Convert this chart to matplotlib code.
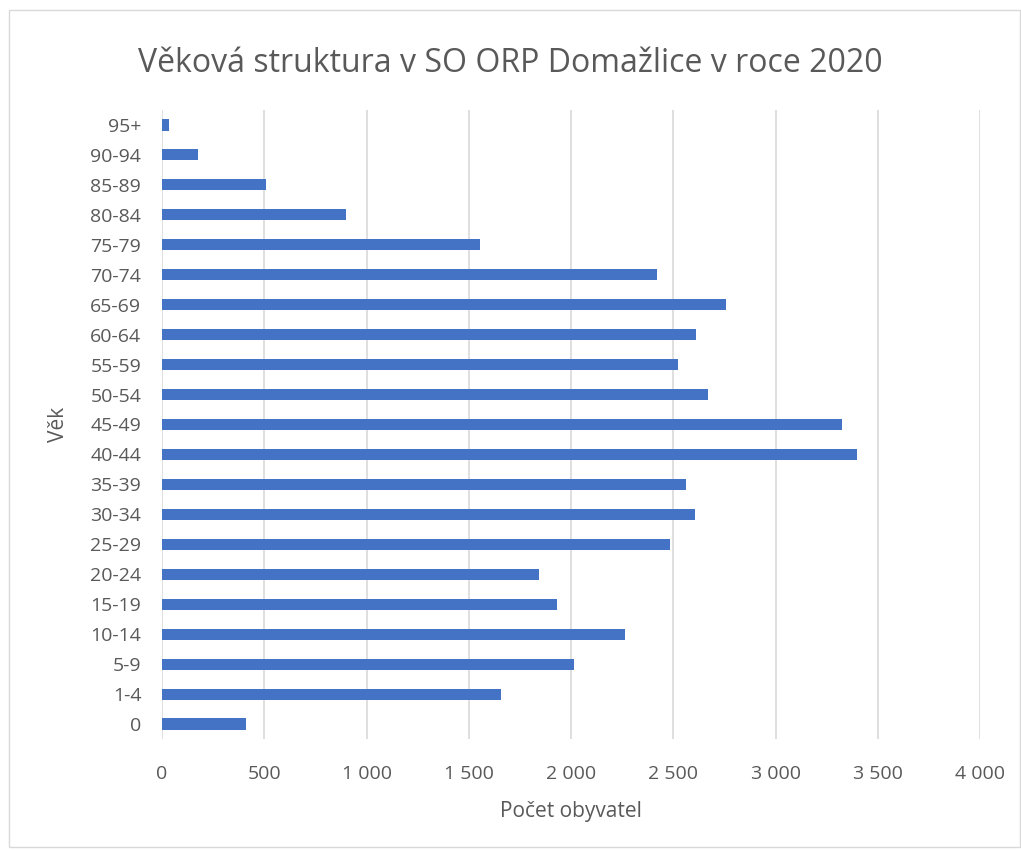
import matplotlib.pyplot as plt
from matplotlib.patches import Rectangle
from matplotlib.ticker import FuncFormatter

age_groups = ['0', '1-4', '5-9', '10-14', '15-19', '20-24', '25-29', '30-34',
              '35-39', '40-44', '45-49', '50-54', '55-59', '60-64', '65-69',
              '70-74', '75-79', '80-84', '85-89', '90-94', '95+']
population = [412, 1657, 2013, 2263, 1929, 1844, 2485, 2607,
              2560, 3396, 3323, 2670, 2522, 2610, 2759,
              2418, 1554, 899, 510, 178, 33]
x_ticks = [0, 500, 1000, 1500, 2000, 2500, 3000, 3500, 4000]

plt.rcParams['font.family'] = ['Open Sans', 'DejaVu Sans']
text_color = '#595959'

fig = plt.figure(figsize=(10.21, 8.5), dpi=100)
fig.patches.append(Rectangle((0.009, 0.004), 0.99, 0.984, transform=fig.transFigure,
                             fill=False, edgecolor='#d9d9d9', linewidth=1))
ax = fig.add_axes([0.1587, 0.1306, 0.8012, 0.74])

ax.barh(range(len(age_groups)), population, height=0.37, color='#4472C4', zorder=3)

ax.set_xlim(0, 4000)
ax.set_ylim(-0.5, len(age_groups) - 0.5)
ax.set_xticks(x_ticks)
ax.xaxis.set_major_formatter(FuncFormatter(lambda v, p: f'{int(v):,}'.replace(',', ' ')))
ax.set_yticks(range(len(age_groups)))
ax.set_yticklabels(age_groups)

ax.grid(axis='x', color='#d9d9d9', linewidth=1.2, zorder=0)
for side in ['top', 'right', 'bottom', 'left']:
    ax.spines[side].set_visible(False)
ax.tick_params(length=0, labelsize=14, colors=text_color)
ax.tick_params(axis='y', pad=15)
ax.tick_params(axis='x', pad=19)

ax.set_xlabel('Počet obyvatel', fontsize=15, color=text_color, labelpad=13)
ax.set_ylabel('Věk', fontsize=15, color=text_color, labelpad=15)
fig.text(0.5, 0.925, 'Věková struktura v SO ORP Domažlice v roce 2020',
         ha='center', va='center', fontsize=23, color=text_color)

fig.savefig('out.png', dpi=100)
